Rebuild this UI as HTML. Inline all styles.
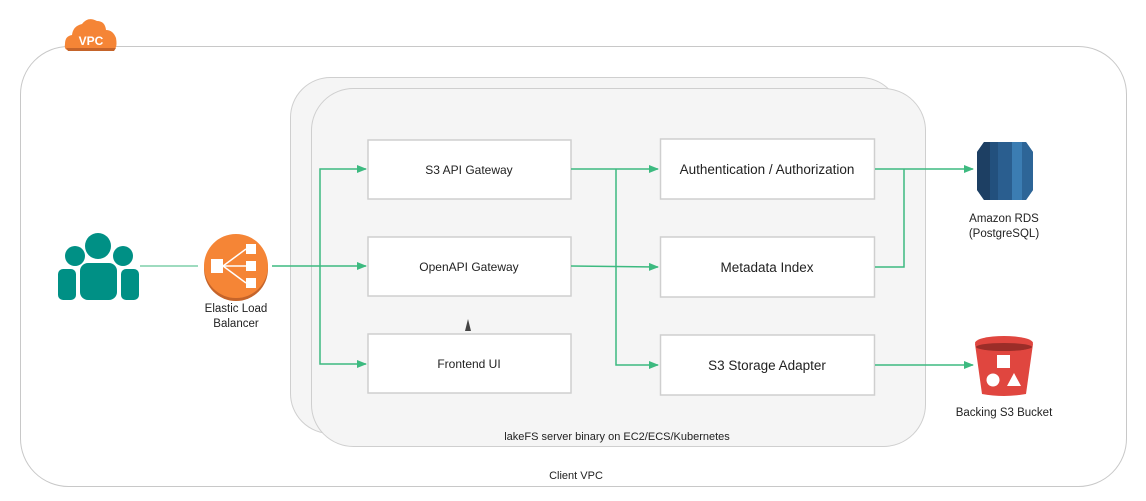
<!DOCTYPE html>
<html><head><meta charset="utf-8"><style>
html,body{margin:0;padding:0;background:#fff;}
svg{display:block;font-family:"Liberation Sans",sans-serif;}
</style></head><body>
<svg width="1146" height="501" viewBox="0 0 1146 501" xmlns="http://www.w3.org/2000/svg">
<defs>
<marker id="a" markerWidth="10" markerHeight="8" refX="9" refY="4" orient="auto" markerUnits="userSpaceOnUse">
<path d="M0,0 L10,4 L0,8 Z" fill="#3dba80"/></marker>
</defs>
<!-- outer VPC -->
<rect x="20.5" y="46.5" width="1106" height="440" rx="48" fill="#fff" stroke="#c8c8c8" stroke-width="1"/>
<!-- VPC cloud -->
<g>
<path d="M68,50 Q64,50 65,44 Q65,36 72,35 Q73,26 82,24 Q88,16 97,21 Q105,21 106,30 Q113,30 116,38 Q118,50 112,50 Z" fill="#f58536"/>
<path d="M66,48 L116,48 L114,51 L68,51 Z" fill="#c5642a"/>
<text x="91" y="45" font-size="12" font-weight="bold" fill="#fff" text-anchor="middle">VPC</text>
</g>
<!-- lakeFS containers -->
<rect x="290.5" y="77.5" width="610" height="356" rx="40" fill="#f5f5f5" stroke="#cfcfcf"/>
<rect x="311.5" y="88.5" width="614" height="358" rx="42" fill="#f5f5f5" stroke="#cfcfcf"/>
<!-- boxes -->
<g fill="#fff" stroke="#cfcfcf" stroke-width="1.5">
<rect x="368" y="140" width="203" height="59"/>
<rect x="368" y="237" width="203" height="59"/>
<rect x="368" y="334" width="203" height="59"/>
<rect x="660.5" y="139" width="214" height="60"/>
<rect x="660.5" y="237" width="214" height="60"/>
<rect x="660.5" y="335" width="214" height="60"/>
</g>
<g font-size="12" fill="#222" text-anchor="middle">
<text x="469" y="174">S3 API Gateway</text>
<text x="469" y="271">OpenAPI Gateway</text>
<text x="469" y="368">Frontend UI</text>
</g>
<g font-size="13.5" fill="#222" text-anchor="middle">
<text x="767" y="174">Authentication / Authorization</text>
<text x="767" y="272">Metadata Index</text>
<text x="767" y="370">S3 Storage Adapter</text>
</g>
<!-- connectors -->
<g stroke="#3dba80" stroke-width="1.5" fill="none">
<line x1="140" y1="266" x2="198" y2="266" stroke="#7fcfaa"/>
<line x1="272" y1="266" x2="366" y2="266" marker-end="url(#a)"/>
<polyline points="320,266 320,169 366,169" marker-end="url(#a)"/>
<polyline points="320,266 320,364 366,364" marker-end="url(#a)"/>
<line x1="571" y1="169" x2="658" y2="169" marker-end="url(#a)"/>
<polyline points="616,169 616,365 658,365" marker-end="url(#a)"/>
<line x1="571" y1="266" x2="658" y2="267" marker-end="url(#a)"/>
<line x1="875" y1="169" x2="973" y2="169" marker-end="url(#a)"/>
<polyline points="875,267 904,267 904,169"/>
<line x1="875" y1="365" x2="973" y2="365" marker-end="url(#a)"/>
</g>
<path d="M465,331 L468,319 L471,331 Z" fill="#444"/>
<!-- users -->
<g fill="#009085">
<circle cx="98" cy="246" r="13"/>
<circle cx="75" cy="256" r="10"/>
<circle cx="123" cy="256" r="10"/>
<rect x="58" y="269" width="18" height="31" rx="5"/>
<rect x="121" y="269" width="18" height="31" rx="5"/>
<rect x="80" y="263" width="37" height="37" rx="8"/>
</g>
<!-- ELB -->
<circle cx="236" cy="269" r="32" fill="#c5642a"/>
<circle cx="236" cy="266" r="32" fill="#f58536"/>
<g fill="#fff" stroke="#fff">
<rect x="211" y="259" width="12" height="14" stroke="none"/>
<rect x="246" y="244" width="10" height="10" stroke="none"/>
<rect x="246" y="261" width="10" height="10" stroke="none"/>
<rect x="246" y="278" width="10" height="10" stroke="none"/>
<line x1="223" y1="266" x2="246" y2="249" stroke-width="1.5"/>
<line x1="223" y1="266" x2="246" y2="266" stroke-width="1.5"/>
<line x1="223" y1="266" x2="246" y2="283" stroke-width="1.5"/>
</g>
<text x="236" y="312" font-size="11.5" fill="#222" text-anchor="middle">Elastic Load</text>
<text x="236" y="327" font-size="11.5" fill="#222" text-anchor="middle">Balancer</text>
<!-- RDS -->
<path d="M984,142 L1026,142 L1033,152 L1033,190 L1026,200 L984,200 L977,190 L977,152 Z" fill="#2a5e8f"/>
<path d="M977,152 L984,142 L990,142 L990,200 L984,200 L977,190 Z" fill="#1d3f63"/>
<rect x="990" y="142" width="8" height="58" fill="#22507d"/>
<rect x="1012" y="142" width="10" height="58" fill="#3b7db3"/>
<path d="M1022,142 L1026,142 L1033,152 L1033,190 L1026,200 L1022,200 Z" fill="#2d6597"/>
<text x="1004" y="222" font-size="11.5" fill="#222" text-anchor="middle">Amazon RDS</text>
<text x="1004" y="237" font-size="11.5" fill="#222" text-anchor="middle">(PostgreSQL)</text>
<!-- S3 bucket -->
<path d="M975,344 L1033,344 L1026,394 Q1004,398 982,394 Z" fill="#e0463f"/>
<ellipse cx="1004" cy="343" rx="29" ry="7" fill="#e0463f"/>
<ellipse cx="1004" cy="347" rx="28" ry="4" fill="#9b2d28"/>
<path d="M976,348 Q1004,356 1032,348 L1031,352 Q1004,359 977,352 Z" fill="#e0463f"/>
<rect x="997" y="355" width="13" height="13" fill="#fff"/>
<circle cx="993" cy="380" r="6.5" fill="#fff"/>
<path d="M1014,373 L1021,386 L1007,386 Z" fill="#fff"/>
<text x="1004" y="416" font-size="11.5" fill="#222" text-anchor="middle">Backing S3 Bucket</text>
<!-- labels -->
<text x="617" y="440" font-size="11" fill="#222" text-anchor="middle">lakeFS server binary on EC2/ECS/Kubernetes</text>
<text x="576" y="479" font-size="11" fill="#222" text-anchor="middle">Client VPC</text>
</svg>
</body></html>
